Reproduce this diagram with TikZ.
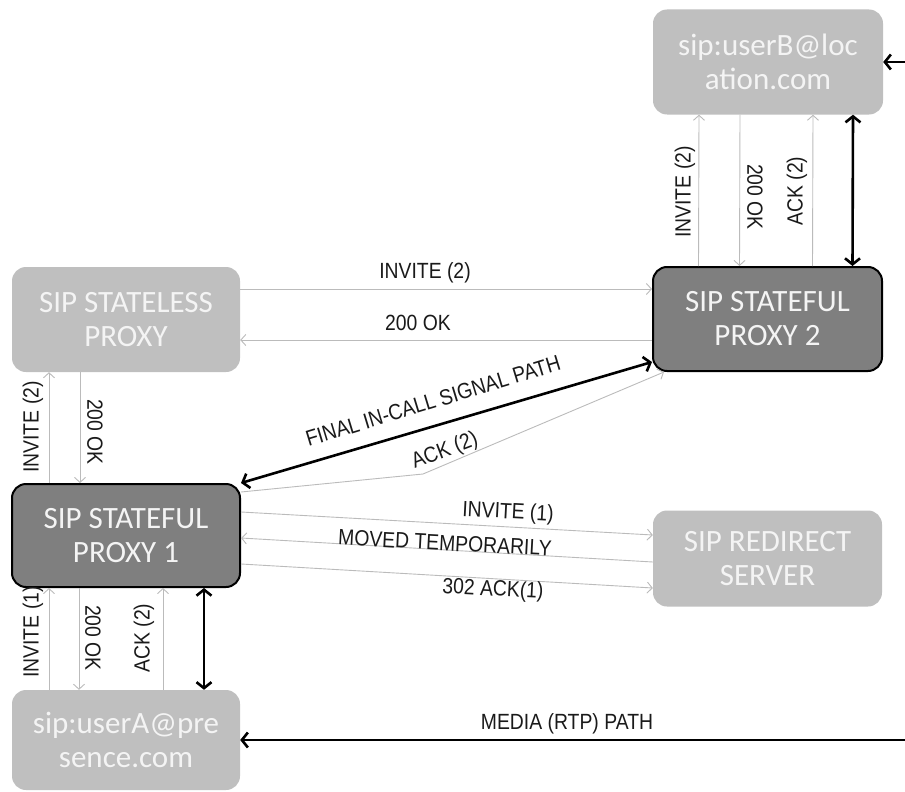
\documentclass[tikz,border=0pt]{standalone}
\usepackage{fontspec}
\setmainfont{Liberation Sans}
\newfontfamily\lblfont[FakeStretch=0.88]{Liberation Sans}
\newfontfamily\boxfont{Carlito}
\usetikzlibrary{arrows.meta,calc}
\definecolor{lightbox}{HTML}{BFBFBF}
\definecolor{darkbox}{HTML}{7F7F7F}
\definecolor{boxtext}{HTML}{F4F4F4}
\definecolor{thinline}{HTML}{BBBBBB}
\definecolor{labeltext}{HTML}{1A1A1A}
\tikzset{
  lbox/.style={rounded corners=14pt, fill=lightbox, draw=none, text=boxtext,
    font=\boxfont\fontsize{31}{34}\selectfont, align=center, inner sep=0pt},
  dbox/.style={rounded corners=14pt, fill=darkbox, draw=black, line width=2pt, text=boxtext,
    font=\boxfont\fontsize{31}{34}\selectfont, align=center, inner sep=0pt},
  thinarrow/.style={draw=thinline, line width=0.9pt, -{Straight Barb[length=5pt,width=11pt]}},
  thickarrow/.style={draw=black, line width=2.6pt, -{Straight Barb[length=6pt,width=15pt]}},
  thickboth/.style={draw=black, line width=2.6pt, {Straight Barb[length=6pt,width=15pt]}-{Straight Barb[length=6pt,width=15pt]}},
  lbl/.style={text=labeltext, font=\lblfont\fontsize{22}{24}\selectfont, inner sep=0pt}
}
\begin{document}
\begin{tikzpicture}[x=1pt,y=-1pt]
\useasboundingbox (0,0) rectangle (905,792);
% boxes
\node[lbox, minimum width=230pt, minimum height=105pt] (userB) at (768,62) {sip:userB@loc\\ation.com};
\node[lbox, minimum width=228pt, minimum height=105pt] (stateless) at (126,319.5) {SIP STATELESS\\PROXY};
\node[dbox, minimum width=229pt, minimum height=104pt] (proxy2) at (767.5,319) {SIP STATEFUL\\PROXY 2};
\node[dbox, minimum width=228pt, minimum height=103pt] (proxy1) at (126,535.5) {SIP STATEFUL\\PROXY 1};
\node[lbox, minimum width=229pt, minimum height=96pt] (redirect) at (767.5,558.5) {SIP REDIRECT\\SERVER};
\node[lbox, minimum width=228pt, minimum height=100pt] (userA) at (126,740) {sip:userA@pre\\sence.com};
% free ends
\coordinate (rightB) at (905,62);
\coordinate (rightA) at (905,740);
\coordinate (ackbend) at (423,474);
% userB <-> proxy2
\draw[thinarrow] ([xshift=-69]proxy2.north) -- ([xshift=-69]userB.south);
\draw[thinarrow] ([xshift=-28]userB.south) -- ([xshift=-28]proxy2.north);
\draw[thinarrow] ([xshift=45]proxy2.north) -- ([xshift=45]userB.south);
\draw[thickboth] ([xshift=85]userB.south) -- ([xshift=85]proxy2.north);
\draw[thickarrow] (rightB) -- (userB.east);
\node[lbl, rotate=90] (lbInv) at (685,192) {INVITE (2)};
\node[lbl, rotate=-90] (lbOk) at (755,197) {200 OK};
\node[lbl, rotate=90] (lbAck) at (797,191) {ACK (2)};
% stateless <-> proxy2
\draw[thinarrow] ([yshift=30.5]stateless.east) -- ([yshift=30]proxy2.west);
\draw[thinarrow] ([yshift=-21]proxy2.west) -- ([yshift=-20.5]stateless.east);
\node[lbl] (slInv) at (425,273) {INVITE (2)};
\node[lbl] (slOk) at (418,323) {200 OK};
% stateless <-> proxy1
\draw[thinarrow] ([xshift=-77]proxy1.north) -- ([xshift=-77]stateless.south);
\draw[thinarrow] ([xshift=-46]stateless.south) -- ([xshift=-46]proxy1.north);
\node[lbl, rotate=90] (spInv) at (33,427) {INVITE (2)};
\node[lbl, rotate=-90] (spOk) at (95,432) {200 OK};
% final in-call path and ACK (2)
\draw[thickboth] (proxy1.north east) -- ([yshift=10]proxy2.south west);
\draw[thinarrow] ([yshift=-9]proxy1.north east) -- (ackbend) -- ([xshift=12]proxy2.south west);
\node[lbl, rotate=17] (finLbl) at (433,401) {FINAL IN-CALL SIGNAL PATH};
\node[lbl, rotate=21] (ackLbl) at (445,451) {ACK (2)};
% proxy1 <-> redirect
\draw[thinarrow] ([yshift=23.5]proxy1.east) -- ([yshift=23.5]redirect.west);
\draw[thinarrow] ([yshift=-3.5]redirect.west) -- ([yshift=-2.5]proxy1.east);
\draw[thinarrow] ([yshift=-28.5]proxy1.east) -- ([yshift=-29.5]redirect.west);
\node[lbl, rotate=-3] (rdInv) at (508,513) {INVITE (1)};
\node[lbl, rotate=-3] (rdMov) at (445,543) {MOVED TEMPORARILY};
\node[lbl, rotate=-3] (rdAck) at (493,590) {302 ACK(1)};
% proxy1 <-> userA
\draw[thinarrow] ([xshift=-77]userA.north) -- ([xshift=-77]proxy1.south);
\draw[thinarrow] ([xshift=-47]proxy1.south) -- ([xshift=-47]userA.north);
\draw[thinarrow] ([xshift=37]userA.north) -- ([xshift=37]proxy1.south);
\draw[thickboth] ([xshift=78]proxy1.south) -- ([xshift=78]userA.north);
\node[lbl, rotate=90] (uaInv) at (33,632) {INVITE (1)};
\node[lbl, rotate=-90] (uaOk) at (93,638) {200 OK};
\node[lbl, rotate=90] (uaAck) at (144,638) {ACK (2)};
% media path
\draw[thickarrow] (rightA) -- (userA.east);
\node[lbl] (media) at (567,724) {MEDIA (RTP) PATH};
\end{tikzpicture}
\end{document}
